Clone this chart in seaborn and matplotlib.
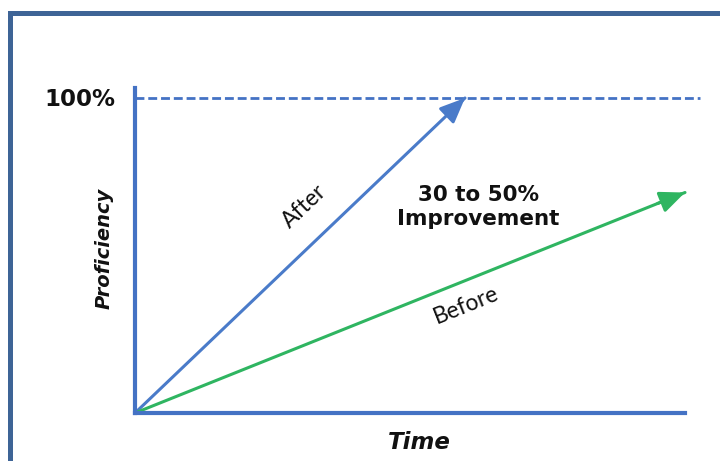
import matplotlib
matplotlib.use("Agg")
import matplotlib.pyplot as plt
from matplotlib.lines import Line2D
import pandas as pd
import seaborn as sns

# Learning curves: proficiency (%) against time (% of the period)
after_time = [0, 60]
after_prof = [0, 100]
before_time = [0, 100]
before_prof = [0, 70]
series_names = ["After", "Before"]
note_text = "30 to 50%\nImprovement"
target_label = "100%"

AXIS_BLUE = "#4472c4"
AFTER_BLUE = "#4a7bc9"
BEFORE_GREEN = "#2fb561"
FRAME_BLUE = "#3e6496"

sns.set_theme(style="white")
plt.rcParams["font.family"] = ["DejaVu Sans"]

W, H = 720, 461
fig = plt.figure(figsize=(W / 100, H / 100), dpi=100)
fig.patch.set_facecolor("white")

# axes box: origin at (135, 413) px, 100 % at y=98 px, right end at x=685 px
x0, y0, x1, ytop = 135, 413, 685, 88
ymax = (y0 - ytop) / (y0 - 98) * 100
ax = fig.add_axes([x0 / W, (H - y0) / H, (x1 - x0) / W, (y0 - ytop) / H])
ax.set_xlim(0, 100)
ax.set_ylim(0, ymax)
ax.set_facecolor("none")

df = pd.concat([
    pd.DataFrame({"time": after_time, "prof": after_prof, "series": series_names[0]}),
    pd.DataFrame({"time": before_time, "prof": before_prof, "series": series_names[1]}),
])
sns.lineplot(data=df, x="time", y="prof", hue="series",
             palette={series_names[0]: AFTER_BLUE, series_names[1]: BEFORE_GREEN},
             linewidth=2.2, legend=False, ax=ax, clip_on=False, sort=False)

# arrowheads at the line ends
for tx, py, col in [(after_time, after_prof, AFTER_BLUE), (before_time, before_prof, BEFORE_GREEN)]:
    ex, ey = tx[-1], py[-1]
    sx, sy = tx[0] + 0.95 * (ex - tx[0]), py[0] + 0.95 * (ey - py[0])
    ax.annotate("", xy=(ex, ey), xytext=(sx, sy),
                arrowprops=dict(arrowstyle="-|>,head_length=1.05,head_width=0.45",
                                mutation_scale=14.5, color=col, lw=2.2,
                                shrinkA=0, shrinkB=0),
                annotation_clip=False)

# dashed 100 % reference line
ax.plot([0, (700 - x0) / (x1 - x0) * 100], [100, 100], ls=(0, (3.2, 1.4)),
        color=AXIS_BLUE, lw=2.0, clip_on=False, zorder=1)

# axes lines
for side in ["top", "right"]:
    ax.spines[side].set_visible(False)
for side in ["left", "bottom"]:
    ax.spines[side].set_color(AXIS_BLUE)
    ax.spines[side].set_linewidth(3.0)
ax.set_xticks([])
ax.set_yticks([])
ax.set_xlabel("")
ax.set_ylabel("")

def fx(px):
    return px / W

def fy(py):
    return 1 - py / H

fig.text(fx(80), fy(99), target_label, ha="center", va="center",
         fontsize=16.5, fontweight="bold", color="#111111")
fig.text(fx(104), fy(248), "Proficiency", ha="center", va="center", rotation=90,
         fontsize=14, fontweight="bold", fontstyle="italic", color="#111111")
fig.text(fx(419), fy(442), "Time", ha="center", va="center",
         fontsize=16.5, fontweight="bold", fontstyle="italic", color="#111111")
fig.text(fx(478), fy(207), note_text, ha="center", va="center",
         fontsize=15.5, fontweight="bold", color="#111111", linespacing=1.2)
fig.text(fx(304), fy(206), series_names[0], ha="center", va="center", rotation=43.5,
         fontsize=16.5, family=["Lato", "DejaVu Sans"], color="#111111")
fig.text(fx(466), fy(305), series_names[1], ha="center", va="center", rotation=21.9,
         fontsize=16.5, family=["Lato", "DejaVu Sans"], color="#111111")

# outer frame (left and top edges visible)
fig.add_artist(Line2D([fx(9.5), fx(9.5)], [fy(13), 0], transform=fig.transFigure,
                      color=FRAME_BLUE, lw=3.6, solid_capstyle="projecting"))
fig.add_artist(Line2D([fx(9.5), 1], [fy(13), fy(13)], transform=fig.transFigure,
                      color=FRAME_BLUE, lw=3.6, solid_capstyle="projecting"))

fig.savefig("out.png", dpi=100)
